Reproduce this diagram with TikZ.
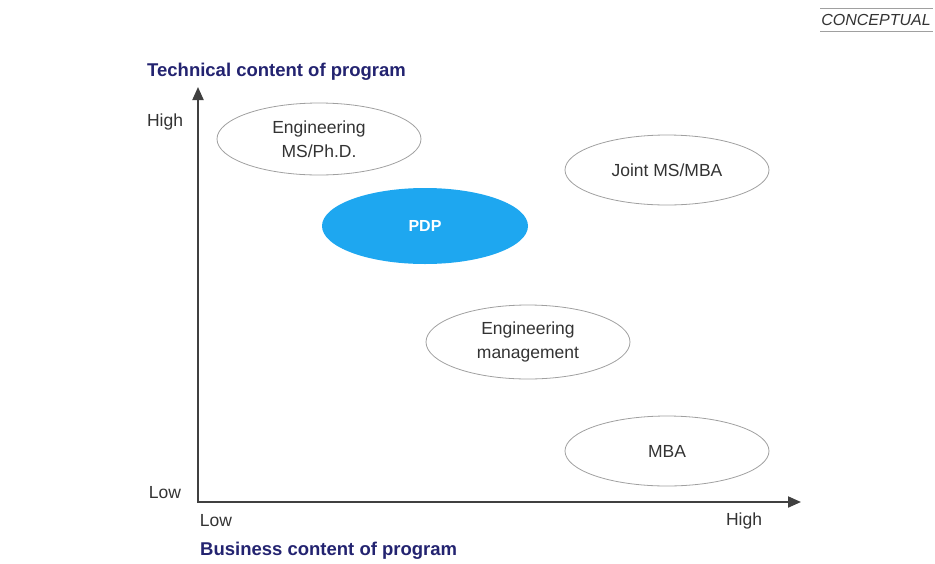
\documentclass[tikz,border=0pt]{standalone}
\usepackage{fontspec}
\setmainfont{Liberation Sans}
\usetikzlibrary{arrows.meta,shapes.geometric}
\definecolor{navy}{HTML}{232370}
\definecolor{txt}{HTML}{333333}
\definecolor{pdpblue}{HTML}{1EA7F0}
\definecolor{axisc}{HTML}{404040}
\definecolor{ellc}{HTML}{A0A0A0}
\begin{document}
\begin{tikzpicture}[x=1pt,y=-1pt,
  prog/.style={ellipse,draw=ellc,line width=0.8pt,minimum width=204pt,minimum height=72pt,inner sep=0pt,align=center,text=txt,font=\fontsize{17.5}{24}\selectfont},
  axlab/.style={text=txt,font=\fontsize{17.5}{20}\selectfont,inner sep=0pt},
  ttl/.style={text=navy,font=\bfseries\fontsize{18.5}{21}\selectfont,inner sep=0pt,anchor=west},
  axis/.style={draw=axisc,line width=2pt,-{Triangle[length=13pt,width=11pt]}}]
\useasboundingbox (0,0) rectangle (935,563);
% corner tag
\node[font=\itshape\fontsize{16}{18}\selectfont,text=txt,inner sep=0pt] (tag) at (876,20) {CONCEPTUAL};
\draw[draw=ellc,line width=0.8pt] (820,8) coordinate (ta) -- (933,8) coordinate (tb);
\draw[draw=ellc,line width=0.8pt] (820,31) coordinate (tc) -- (933,31) coordinate (td);
% axes
\coordinate (O) at (198,502);
\coordinate (Ytop) at (198,87);
\coordinate (Xend) at (801,502);
\draw[axis] (O) -- (Ytop);
\draw[axis] ([xshift=-1pt]O) -- (Xend);
% axis titles
\node[ttl] (ytitle) at (147,72) {Technical content of program};
\node[ttl] (xtitle) at (200,551) {Business content of program};
% axis labels
\node[axlab] (yhigh) at (165,122) {High};
\node[axlab] (ylow) at (165,493) {Low};
\node[axlab] (xlow) at (216,521) {Low};
\node[axlab] (xhigh) at (744,521) {High};
% programs
\node[prog] (ems) at (319,139) {Engineering\\MS/Ph.D.};
\node[prog,minimum height=70pt] (joint) at (667,170) {Joint MS/MBA};
\node[prog,draw=none,fill=pdpblue,text=white,font=\bfseries\fontsize{16}{19}\selectfont,minimum width=206pt,minimum height=76pt] (pdp) at (425,226) {PDP};
\node[prog,minimum height=74pt] (em) at (528,342) {Engineering\\management};
\node[prog,minimum height=70pt] (mba) at (667,451) {MBA};
\end{tikzpicture}
\end{document}
